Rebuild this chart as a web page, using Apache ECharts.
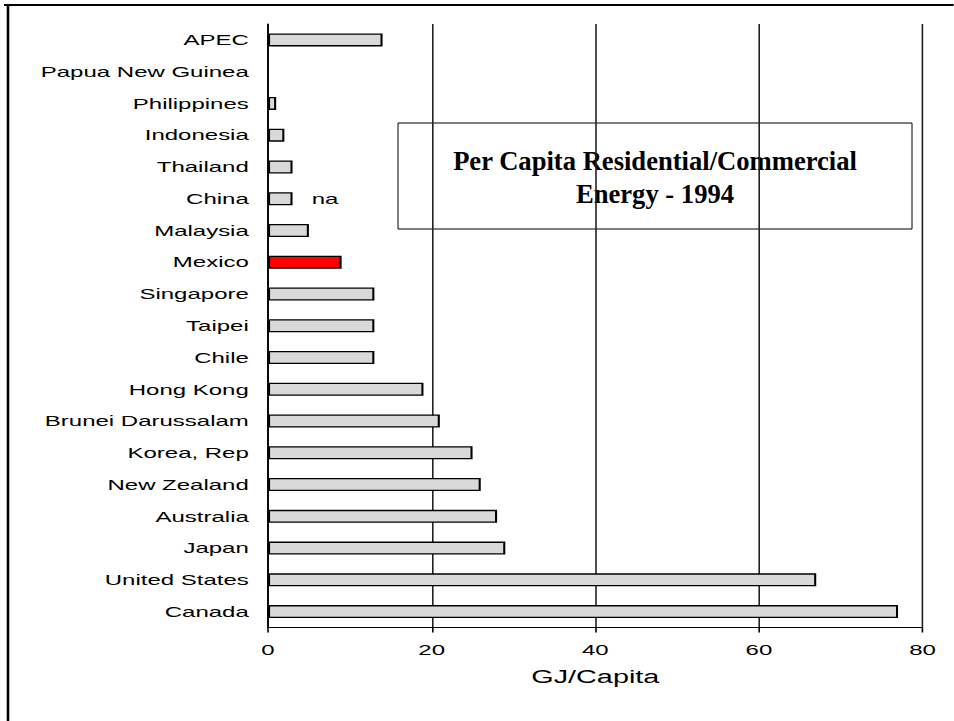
<!DOCTYPE html>
<html>
<head>
<meta charset="utf-8">
<script src="https://cdn.jsdelivr.net/npm/echarts@6/dist/echarts.min.js"></script>
<style>
  html, body { margin: 0; padding: 0; background: #fff; overflow: hidden; }
  /* The plot is laid out in a narrow frame and widened 1.6x, which gives the broad sans-serif lettering */
  #wrap { position: absolute; left: 0; top: 0; width: 596.25px; height: 721px;
          transform: scaleX(1.6); transform-origin: 0 0; }
  #chart { width: 100%; height: 100%; }
</style>
</head>
<body>
<div id="wrap"><div id="chart"></div></div>
<script>
// Per capita residential/commercial energy use, GJ per person, 1994
var economies = ['APEC', 'Papua New Guinea', 'Philippines', 'Indonesia', 'Thailand', 'China',
  'Malaysia', 'Mexico', 'Singapore', 'Taipei', 'Chile', 'Hong Kong', 'Brunei Darussalam',
  'Korea, Rep', 'New Zealand', 'Australia', 'Japan', 'United States', 'Canada'];
var gjPerCapita = [14, null, 1, 2, 3, 3, 5, 9, 13, 13, 13, 19, 21, 25, 26, 28, 29, 67, 77];
var xTicks = [0, 20, 40, 60, 80];
var highlighted = 'Mexico';
var noDataNote = { economy: 'China', text: 'na' };

var SX = 1.6; // horizontal widening of the frame

var barData = economies.map(function (name, i) {
  var item = { value: gjPerCapita[i] };
  if (name === highlighted) item.itemStyle = { color: '#ff0000' };
  if (name === noDataNote.economy) {
    item.label = { show: true, position: 'right', distance: 12, formatter: noDataNote.text,
      color: '#000', fontSize: 15, fontFamily: 'Liberation Sans, Arial, sans-serif' };
  }
  return item;
});

var chart = echarts.init(document.getElementById('chart'), null, { renderer: 'svg' });
chart.setOption({
  backgroundColor: '#fff',
  animation: false,
  grid: { left: 268 / SX, right: 596.25 - 923 / SX, top: 24, bottom: 721 - 627.5, containLabel: false },
  xAxis: {
    type: 'value', min: xTicks[0], max: xTicks[xTicks.length - 1], interval: xTicks[1] - xTicks[0],
    name: 'GJ/Capita', nameLocation: 'middle', nameGap: 40,
    nameTextStyle: { color: '#000', fontSize: 18, fontFamily: 'Liberation Sans, Arial, sans-serif' },
    axisLine: { show: true, lineStyle: { color: '#000', width: 1 } },
    axisTick: { show: true, length: 5, lineStyle: { color: '#000' } },
    axisLabel: { color: '#000', fontSize: 15, margin: 15, fontFamily: 'Liberation Sans, Arial, sans-serif' },
    splitLine: { show: true, lineStyle: { color: '#222', width: 1 } }
  },
  yAxis: {
    type: 'category', data: economies, inverse: true,
    axisLine: { show: true, lineStyle: { color: '#000', width: 1.1 } },
    axisTick: { show: false },
    axisLabel: { color: '#000', fontSize: 15, margin: 12, fontFamily: 'Liberation Sans, Arial, sans-serif' },
    splitLine: { show: false }
  },
  series: [{
    type: 'bar', data: barData, barWidth: 13,
    itemStyle: { color: '#d9d9d9', borderColor: '#000', borderWidth: 1.3 }
  }],
  graphic: [
    { type: 'line', z: 100, shape: { x1: 4 / SX, y1: 5, x2: 700, y2: 5 }, style: { stroke: '#000', lineWidth: 2.2 } },
    { type: 'line', z: 100, shape: { x1: 8 / SX, y1: 4, x2: 8 / SX, y2: 760 }, style: { stroke: '#000', lineWidth: 1.6 } },
    {
      type: 'group', z: 100, x: 398 / SX, y: 123, scaleX: 1 / SX,
      children: [
        { type: 'rect', shape: { x: 0, y: 0, width: 514, height: 106 },
          style: { fill: '#fff', stroke: '#000', lineWidth: 1 } },
        { type: 'text', x: 257, y: 54,
          style: { text: 'Per Capita Residential/Commercial\nEnergy - 1994', align: 'center', verticalAlign: 'middle',
            fill: '#000', fontSize: 26.6, fontWeight: 'bold', lineHeight: 33,
            fontFamily: 'Liberation Serif, Times New Roman, serif' } }
      ]
    }
  ]
});
</script>
</body>
</html>
